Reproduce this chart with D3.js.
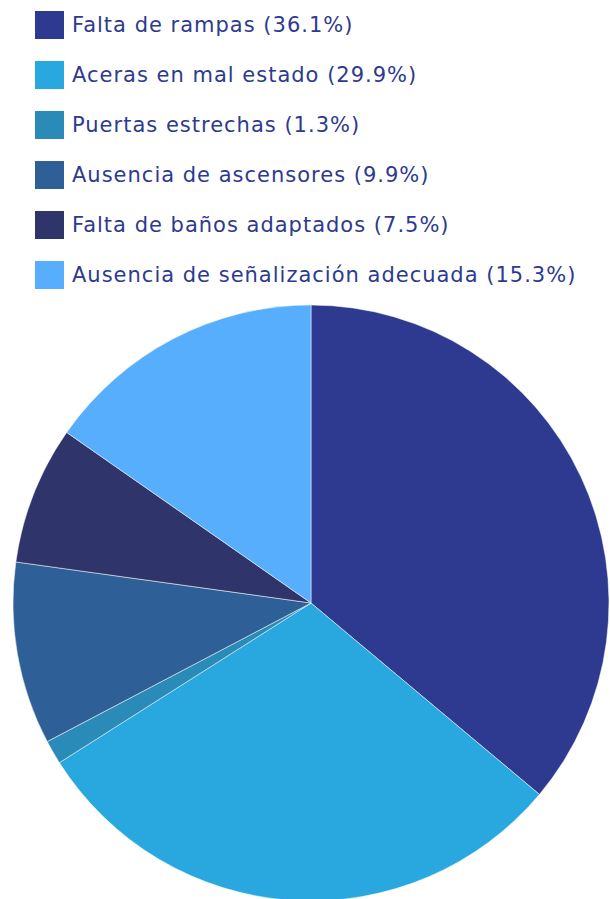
<!DOCTYPE html>
<html>
<head>
<meta charset="utf-8">
<script src="https://cdn.jsdelivr.net/npm/d3@7"></script>
<style>
  html, body { margin: 0; padding: 0; background: #fff; }
  svg { display: block; }
</style>
</head>
<body>
<div id="chart"></div>
<script>
const width = 610;
const height = 899;

// datos
const categories = [
  "Falta de rampas",
  "Aceras en mal estado",
  "Puertas estrechas",
  "Ausencia de ascensores",
  "Falta de baños adaptados",
  "Ausencia de señalización adecuada"
];
const values = [36.1, 29.9, 1.3, 9.9, 7.5, 15.3];
const colors = ["#2d3a8f", "#29a8e0", "#2a8ab8", "#2e5f97", "#2f356b", "#56aefc"];

const data = categories.map((c, i) => ({ name: c, value: values[i] }));

const svg = d3.select("#chart")
  .append("svg")
  .attr("width", width)
  .attr("height", height);

const color = d3.scaleOrdinal().domain(categories).range(colors);

// leyenda
const legend = svg.append("g").attr("transform", "translate(35, 11)");

const item = legend.selectAll(".item")
  .data(data)
  .enter()
  .append("g")
  .attr("class", "item")
  .attr("transform", (d, i) => `translate(0, ${i * 50})`);

item.append("rect")
  .attr("width", 29)
  .attr("height", 28)
  .attr("fill", d => color(d.name));

item.append("text")
  .attr("x", 37)
  .attr("y", 14)
  .attr("dy", "0.35em")
  .attr("fill", "#2d3a8f")
  .style("font-family", "'DejaVu Sans', sans-serif")
  .style("font-size", "21px")
  .style("letter-spacing", "1px")
  .text(d => `${d.name} (${d.value}%)`);

// tarta
const radius = 298;
const pie = d3.pie().value(d => d.value).sort(null);
const arc = d3.arc().innerRadius(0).outerRadius(radius);

const g = svg.append("g").attr("transform", "translate(311, 603)");

g.selectAll("path")
  .data(pie(data))
  .enter()
  .append("path")
  .attr("d", arc)
  .attr("fill", d => color(d.data.name))
  .attr("stroke", "#fff")
  .attr("stroke-width", 0.5);
</script>
</body>
</html>
